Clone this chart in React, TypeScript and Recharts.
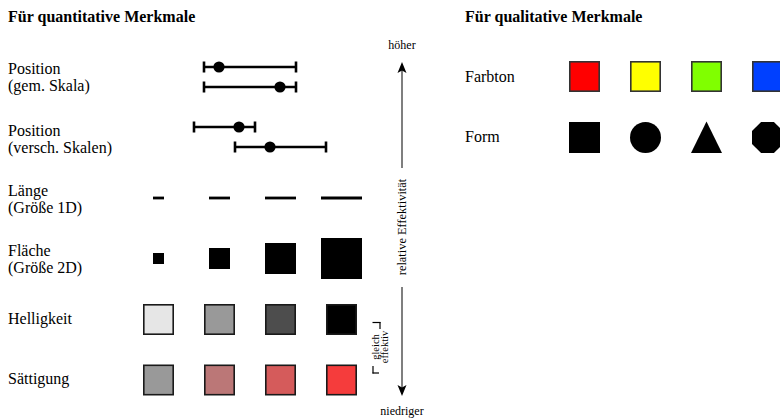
import React from "react";
import { ScatterChart, Scatter, XAxis, YAxis, ZAxis, ErrorBar, ReferenceLine } from "recharts";

// ---------------- data ----------------
const quantTitle = "Für quantitative Merkmale";
const qualTitle = "Für qualitative Merkmale";
const quantRowLabels: string[][] = [
  ["Position", "(gem. Skala)"],
  ["Position", "(versch. Skalen)"],
  ["Länge", "(Größe 1D)"],
  ["Fläche", "(Größe 2D)"],
  ["Helligkeit"],
  ["Sättigung"],
];
const qualRowLabels = ["Farbton", "Form"];
// position on a common scale / on separate scales: [low, value, high]
const positionCommonScale = [
  { lo: 204, value: 219, hi: 296 },
  { lo: 204, value: 280, hi: 296 },
];
const positionSeparateScales = [
  { lo: 194, value: 239, hi: 255 },
  { lo: 235, value: 270, hi: 326 },
];
const lengthValues = [11, 21, 31, 41];
const areaSides = [11, 21, 31, 41];
const lightnessColors = ["#e6e6e6", "#999999", "#4d4d4d", "#000000"];
const saturationColors = ["#999999", "#bb7777", "#d55b5b", "#f53c3c"];
const hueColors = ["#ff0000", "#ffff00", "#80ff00", "#0040ff"];
const formShapes = ["square", "circle", "triangle", "octagon"];
const axisTopLabel = "höher";
const axisBottomLabel = "niedriger";
const axisLabel = "relative Effektivität";
const bracketLabels = ["gleich", "effektiv"];

// ---------------- layout ----------------
const W = 780;
const H = 420;
const FONT = '"Liberation Serif", "Times New Roman", serif';
const quantColX = (i: number) => 158.5 + 61 * i;
const qualColX = (i: number) => 584.5 + 61 * i;
const quantLabelBaselines = [74, 136, 196, 256, 324, 384];
const qualLabelBaselines = [82, 142];
const LINE_GAP = 17;
const posCommonY = [67, 87];
const posSeparateY = [127, 147];
const lengthY = 198;
const areaY = 258.5;
const lightY = 319.5;
const satY = 380;
const hueY = 76.5;
const formY = 137.5;
const SWATCH = 31;
const arrowX = 402;

// ---------------- derived tables ----------------
type T = { x: number; y: number; text: string; size: number; weight?: string; anchor?: string; rotate?: number; baseline?: string };
const texts: T[] = [
  { x: 8, y: 22, text: quantTitle, size: 16, weight: "bold" },
  { x: 465, y: 22, text: qualTitle, size: 16, weight: "bold" },
  ...quantRowLabels.flatMap((lines, r) =>
    lines.map((t, k) => ({ x: 8, y: quantLabelBaselines[r] + k * LINE_GAP, text: t, size: 16 }))
  ),
  ...qualRowLabels.map((t, r) => ({ x: 465, y: qualLabelBaselines[r], text: t, size: 16 })),
  { x: arrowX, y: 49, text: axisTopLabel, size: 12, anchor: "middle" },
  { x: arrowX, y: 415, text: axisBottomLabel, size: 12, anchor: "middle" },
  { x: arrowX, y: 227, text: axisLabel, size: 12.4, anchor: "middle", rotate: -90, baseline: "central" },
  { x: 375.5, y: 347, text: bracketLabels[0], size: 10.5, anchor: "middle", rotate: -90, baseline: "central" },
  { x: 384.5, y: 347, text: bracketLabels[1], size: 10.5, anchor: "middle", rotate: -90, baseline: "central" },
];

const positionData = [
  ...positionCommonScale.map((d, i) => ({ x: d.value, y: posCommonY[i], err: [d.value - d.lo, d.hi - d.value] })),
  ...positionSeparateScales.map((d, i) => ({ x: d.value, y: posSeparateY[i], err: [d.value - d.lo, d.hi - d.value] })),
];
const lengthData = lengthValues.map((v, i) => ({ x: quantColX(i), y: lengthY, err: [v / 2, v / 2] }));
const areaData = areaSides.map((s, i) => ({ x: quantColX(i), y: areaY, area: s * s, fill: "#000" }));
const lightData = lightnessColors.map((c, i) => ({ x: quantColX(i), y: lightY, area: SWATCH * SWATCH, fill: c }));
const satData = saturationColors.map((c, i) => ({ x: quantColX(i), y: satY, area: SWATCH * SWATCH, fill: c }));
const hueData = hueColors.map((c, i) => ({ x: qualColX(i), y: hueY, area: SWATCH * SWATCH, fill: c }));
const formData = formShapes.map((s, i) => ({ x: qualColX(i), y: formY, area: SWATCH * SWATCH, shape: s }));
const arrowHeads = [
  { x: arrowX, y: 62, dir: 1 },
  { x: arrowX, y: 396, dir: -1 },
];

// ---------------- shapes ----------------
const TextShape = (p: any) => {
  const d = p.payload as T;
  return (
    <text
      x={p.cx}
      y={p.cy}
      fontSize={d.size}
      fontWeight={d.weight || "normal"}
      fontFamily={FONT}
      textAnchor={d.anchor || "start"}
      dominantBaseline={d.baseline || "alphabetic"}
      fill="#000"
      transform={d.rotate ? `rotate(${d.rotate}, ${p.cx}, ${p.cy})` : undefined}
    >
      {d.text}
    </text>
  );
};

const makeSquare = (stroke: string | null) => (p: any) => {
  const s = Math.sqrt(p.size);
  const inner = stroke ? s - 1.6 : s;
  return (
    <rect
      x={p.cx - inner / 2}
      y={p.cy - inner / 2}
      width={inner}
      height={inner}
      fill={p.payload.fill}
      stroke={stroke || "none"}
      strokeWidth={stroke ? 1.6 : 0}
    />
  );
};

const FormShape = (p: any) => {
  const s = Math.sqrt(p.size);
  const h = s / 2;
  const { cx, cy } = p;
  switch (p.payload.shape) {
    case "square":
      return <rect x={cx - h} y={cy - h} width={s} height={s} fill="#000" />;
    case "circle":
      return <circle cx={cx} cy={cy} r={h} fill="#000" />;
    case "triangle":
      return <polygon points={`${cx},${cy - h - 0.5} ${cx + h},${cy + h} ${cx - h},${cy + h}`} fill="#000" />;
    default: {
      const pts: string[] = [];
      const R = h / Math.cos(Math.PI / 8);
      for (let k = 0; k < 8; k++) {
        const a = Math.PI / 8 + (k * Math.PI) / 4;
        pts.push(`${cx + R * Math.cos(a)},${cy + R * Math.sin(a)}`);
      }
      return <polygon points={pts.join(" ")} fill="#000" />;
    }
  }
};

const Dot = (p: any) => <circle cx={p.cx} cy={p.cy} r={5.6} fill="#000" />;
const Nothing = () => <g />;
const ArrowHead = (p: any) => {
  const { cx, cy } = p;
  const d = p.payload.dir;
  return (
    <polygon
      points={`${cx},${cy} ${cx + 4.5},${cy + 11 * d} ${cx},${cy + 8.5 * d} ${cx - 4.5},${cy + 11 * d}`}
      fill="#000"
    />
  );
};

const segs = [
  // arrow shafts
  { a: { x: arrowX, y: 70 }, b: { x: arrowX, y: 168 }, c: "#555", w: 1.5 },
  { a: { x: arrowX, y: 287 }, b: { x: arrowX, y: 388 }, c: "#555", w: 1.5 },
  // bracket
  { a: { x: 372.5, y: 322.5 }, b: { x: 380.5, y: 322.5 }, c: "#000", w: 1.2 },
  { a: { x: 380, y: 322 }, b: { x: 380, y: 329 }, c: "#000", w: 1.2 },
  { a: { x: 373, y: 366 }, b: { x: 373, y: 373.5 }, c: "#000", w: 1.2 },
  { a: { x: 372.5, y: 373 }, b: { x: 379, y: 373 }, c: "#000", w: 1.2 },
];

export default function App() {
  return (
    <div style={{ position: "absolute", left: 0, top: 0, width: W, height: H, background: "#fff" }}>
      <ScatterChart width={W} height={H} margin={{ top: 0, right: 0, bottom: 0, left: 0 }}>
        <XAxis type="number" dataKey="x" domain={[0, W]} hide allowDataOverflow />
        <YAxis type="number" dataKey="y" domain={[0, H]} reversed hide allowDataOverflow />
        <ZAxis zAxisId="sq" type="number" dataKey="area" domain={[0, 2000]} range={[0, 2000]} />
        {segs.map((s, i) => (
          <ReferenceLine key={i} segment={[s.a, s.b]} stroke={s.c} strokeWidth={s.w} ifOverflow="visible" />
        ))}
        <Scatter data={texts} shape={TextShape} isAnimationActive={false} />
        <Scatter data={positionData} shape={Dot} isAnimationActive={false}>
          <ErrorBar direction="x" dataKey="err" width={5.5} strokeWidth={2.6} stroke="#000" />
        </Scatter>
        <Scatter data={lengthData} shape={Nothing} isAnimationActive={false}>
          <ErrorBar direction="x" dataKey="err" width={0} strokeWidth={2.8} stroke="#000" />
        </Scatter>
        <Scatter zAxisId="sq" data={areaData} shape={makeSquare(null)} isAnimationActive={false} />
        <Scatter zAxisId="sq" data={lightData} shape={makeSquare("#1a1a1a")} isAnimationActive={false} />
        <Scatter zAxisId="sq" data={satData} shape={makeSquare("#1a1a1a")} isAnimationActive={false} />
        <Scatter zAxisId="sq" data={hueData} shape={makeSquare("#333")} isAnimationActive={false} />
        <Scatter zAxisId="sq" data={formData} shape={FormShape} isAnimationActive={false} />
        <Scatter data={arrowHeads} shape={ArrowHead} isAnimationActive={false} />
      </ScatterChart>
    </div>
  );
}
